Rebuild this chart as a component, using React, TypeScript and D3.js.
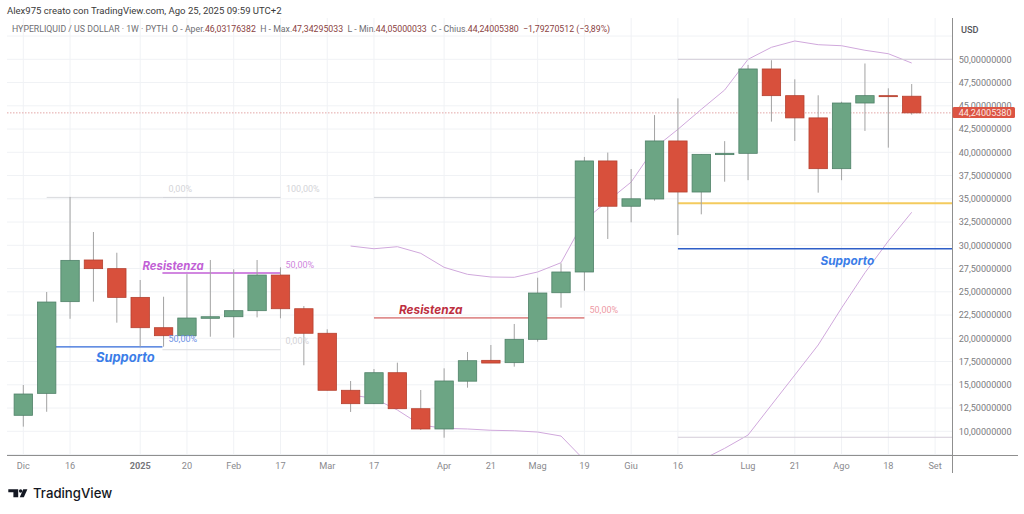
import React from "react";
import * as d3 from "d3";

const opens = [11.72,14.08,23.94,28.42,27.49,24.4,21.14,20.28,22.15,22.32,22.97,26.8,23.18,20.54,14.41,12.97,16.3,12.43,10.25,15.39,17.63,17.38,19.89,24.9,27.13,39.07,34.2,34.98,41.22,35.73,39.75,39.89,48.96,46.09,43.7,38.24,45.3,46.09,46.03];
const highs = [14.98,24.98,35.2,31.43,29.2,26.27,24.47,26.9,28.42,27.42,28.42,27.63,23.47,20.97,15.41,16.7,17.38,14.44,16.77,18.53,19.28,21.54,26.52,28.06,39.5,39.97,38.2,44.0,45.8,39.8,41.2,49.4,49.9,47.85,46.13,45.44,49.55,46.88,47.34];
const lows = [10.5,12.1,22.1,23.94,21.68,19.1,19.1,20.25,20.17,20.07,22.25,22.15,17.1,14.4,12.08,12.94,12.43,10.14,9.31,14.69,17.34,16.95,19.64,23.29,25.12,30.68,32.47,34.8,31.1,33.33,36.84,37.0,43.3,41.22,35.66,37.0,42.3,40.5,44.05];
const closes = [14.01,23.9,28.38,27.49,24.4,21.14,20.28,22.18,22.32,22.97,26.8,23.18,20.54,14.41,12.97,16.3,12.43,10.25,15.41,17.59,17.34,19.89,24.87,27.13,39.07,34.2,35.0,41.22,35.73,39.78,39.89,48.96,46.09,43.7,38.24,45.3,46.09,46.03,44.24];

const upperIdx = [14,15,16,17,18,19,20,21,22,23,24,25,26,27,28,29,30,31,32,33,34,35,36,37,38];
const upperBand = [29.92,29.63,29.85,29.14,27.63,26.88,26.59,26.56,27.13,28.13,32.7,34.76,36.8,40.46,42.47,44.62,46.7,50,51.29,51.97,51.57,51.46,50.97,50.6,49.6];
const lowerIdxA = [14,15,16,17,18,19,20,21,22,23,24];
const lowerBandA = [13.9,13.55,12.29,10.68,10.32,10.25,10.11,10.06,9.92,9.49,6.9];
const lowerIdxB = [29,30,31,32,33,34,35,36,37,38];
const lowerBandB = [6.9,8.17,9.6,12.83,16.05,19.28,23.26,27.05,30.46,33.55];

const priceTicks = [10,12.5,15,17.5,20,22.5,25,27.5,30,32.5,35,37.5,40,42.5,45,47.5,50];
const gridOnly = [7.5,52.5];
const timeTickIdx = [0,2,5,7,9,11,13,15,18,20,22,24,26,28,31,33,35,37,39];
const timeTickLabels = ["Dic","16","2025","20","Feb","17","Mar","17","Apr","21","Mag","19","Giu","16","Lug","21","Ago","18","Set"];

const headerParts: [string, boolean][] = [
  ["HYPERLIQUID / US DOLLAR · 1W · PYTH  O - Aper.", false],
  ["46,03176382", true],
  ["  H - Max.", false],
  ["47,34295033", true],
  ["  L - Min.", false],
  ["44,05000033", true],
  ["  C - Chius.", false],
  ["44,24005380", true],
  ["  −1,79270512 (−3,89%)", true],
];

const LAST = 44.24005380;
const FONT = "Roboto, 'Noto Sans', sans-serif";
const INTER = "Inter, Roboto, sans-serif";

export default function App() {
  const x = d3.scaleLinear().domain([0, 38]).range([23.3, 911.7]);
  const y = d3.scaleLinear().domain([10, 50]).range([431.3, 59.3]);
  const axisX = 952.5;
  const axisY = 455.5;
  const bw = 18.4;

  const line = d3.line<[number, number]>().x(d => x(d[0])).y(d => y(d[1]));
  const band = (idx: number[], v: number[]) => line(idx.map((k, i) => [k, v[i]] as [number, number])) || "";

  const hl = (key: string, x1: number, x2: number, val: number, color: string, w = 1) => (
    <line key={key} x1={x1} x2={x2} y1={y(val)} y2={y(val)} stroke={color} strokeWidth={w} />
  );

  return (
    <svg width={1024} height={514} style={{ position: "absolute", left: 0, top: 0, background: "#fff" }} fontFamily={FONT}>
      <defs>
        <clipPath id="pane"><rect x={7} y={18} width={axisX - 7} height={axisY - 18} /></clipPath>
      </defs>

      <text x={7} y={13.8} fontSize={9.55} fill="#3a3a3a">Alex975 creato con TradingView.com, Ago 25, 2025 09:59 UTC+2</text>

      {[...priceTicks, ...gridOnly].map(v => (
        <line key={v} x1={7} x2={axisX} y1={y(v)} y2={y(v)} stroke="#f0f2f5" strokeWidth={1} />
      ))}
      {timeTickIdx.map(i => (
        <line key={i} x1={x(i)} x2={x(i)} y1={18} y2={axisY} stroke="#f0f2f5" strokeWidth={1} />
      ))}

      <text x={12} y={31.6} fontSize={8.76} fill="#6f6f73" xmlSpace="preserve">
        {headerParts.map((p, i) => (
          <tspan key={i} fill={p[1] ? "#8a3f3f" : "#6f6f73"}>{p[0]}</tspan>
        ))}
      </text>

      <g clipPath="url(#pane)">
        <line x1={7} x2={axisX} y1={y(LAST)} y2={y(LAST)} stroke="#e3a6a6" strokeWidth={1} strokeDasharray="1.5 1.5" />
        <path d={band(upperIdx, upperBand)} fill="none" stroke="#d0a8dc" strokeWidth={1} />
        <path d={band(lowerIdxA, lowerBandA)} fill="none" stroke="#d0a8dc" strokeWidth={1} />
        <path d={band(lowerIdxB, lowerBandB)} fill="none" stroke="#d0a8dc" strokeWidth={1} />

        {hl("g1", x(1), x(5.95), 35.15, "#d9dade")}
        {hl("g2", x(5.95), x(11), 35.15, "#cfd0d6")}
        {hl("g3", x(15), x(24), 35.15, "#d2d3d8")}
        {hl("g4", x(5.95), x(11), 18.77, "#dcdde0")}
        {hl("g5", x(28), axisX, 50, "#d3ccd8")}
        {hl("g6", x(28), axisX, 9.36, "#d3ccd8")}
        {hl("p1", x(5.95), x(11), 27.02, "#c25fd6", 1.3)}
        {hl("b1", 56, x(5.95), 19.07, "#3168d8", 1.3)}
        {hl("r1", x(15), x(24), 22.2, "#e08f8f", 1.7)}
        {hl("y1", x(28), axisX, 34.52, "#f4cb5e", 1.8)}
        {hl("b2", x(28), axisX, 29.64, "#2f5fc8", 1.5)}

        {opens.map((o, i) => {
          const c = closes[i];
          const up = c >= o;
          const top = y(Math.max(o, c));
          const h = Math.max(y(Math.min(o, c)) - top, 1);
          return (
            <g key={i}>
              <line x1={x(i)} x2={x(i)} y1={y(highs[i])} y2={y(lows[i])} stroke="#a3a3a3" strokeWidth={1} />
              <rect x={x(i) - bw / 2} y={top} width={bw} height={h}
                fill={up ? "#6ca584" : "#d8503c"} stroke={up ? "#4f8168" : "#b5402f"} strokeWidth={0.8} />
            </g>
          );
        })}
      </g>

      <text x={168.5} y={192.3} fontSize={9} fill="#d4d4d8">0,00%</text>
      <text x={286} y={192.3} fontSize={9} fill="#d4d4d8">100,00%</text>
      <text x={285.5} y={268.3} fontSize={9} fill="#cf86dd">50,00%</text>
      <text x={168.5} y={342.3} fontSize={9} fill="#6f92e6">50,00%</text>
      <text x={285.5} y={344.3} fontSize={9} fill="#d4d4d8">0,00%</text>
      <text x={589.5} y={313.3} fontSize={9} fill="#ee9aa5">50,00%</text>

      <g fontFamily={INTER} fontWeight={700} fontStyle="italic">
        <text x={142.5} y={270.3} fontSize={11.4} fill="#c25fd6">Resistenza</text>
        <text x={96} y={361.7} fontSize={12.9} fill="#3b7de8">Supporto</text>
        <text x={399} y={314.3} fontSize={11.8} fill="#bd2f3f">Resistenza</text>
        <text x={820.5} y={265} fontSize={11.8} fill="#3b7de8">Supporto</text>
      </g>

      <line x1={7} x2={1018} y1={axisY} y2={axisY} stroke="#8f8f8f" strokeWidth={1} />
      <line x1={axisX} x2={axisX} y1={18} y2={473} stroke="#8f8f8f" strokeWidth={1} />

      <text x={961} y={32.5} fontSize={9.2} fontWeight={500} fill="#55555a">USD</text>
      {priceTicks.map(v => (
        <text key={v} x={958.7} y={y(v) + 3.3} fontSize={9.1} fill="#7c7c80">
          {d3.format(".8f")(v).replace(".", ",")}
        </text>
      ))}
      <rect x={axisX} y={107} width={62.5} height={11} rx={1.5} fill="#dc5443" />
      <text x={958.7} y={115.8} fontSize={9.1} fill="#fbe6e2">{d3.format(".8f")(LAST).replace(".", ",")}</text>

      {timeTickIdx.map((i, k) => (
        <text key={i} x={x(i)} y={468.5} fontSize={9.2} textAnchor="middle"
          fontWeight={timeTickLabels[k] === "2025" ? 700 : 400} fill={timeTickLabels[k] === "2025" ? "#77777b" : "#8a8a8e"}>
          {timeTickLabels[k]}
        </text>
      ))}

      <g fill="#131722">
        <path d="M8.3 489.3H18.2V497.3H13.4V492.3H8.3Z" />
        <circle cx={20.6} cy={491} r={1.7} />
        <path d="M23.2 489.3H27.4L23.8 497.3H19.8Z" />
      </g>
      <text x={33} y={498.4} fontSize={13.2} fontWeight={500} fontFamily={INTER} fill="#131722">TradingView</text>
    </svg>
  );
}
